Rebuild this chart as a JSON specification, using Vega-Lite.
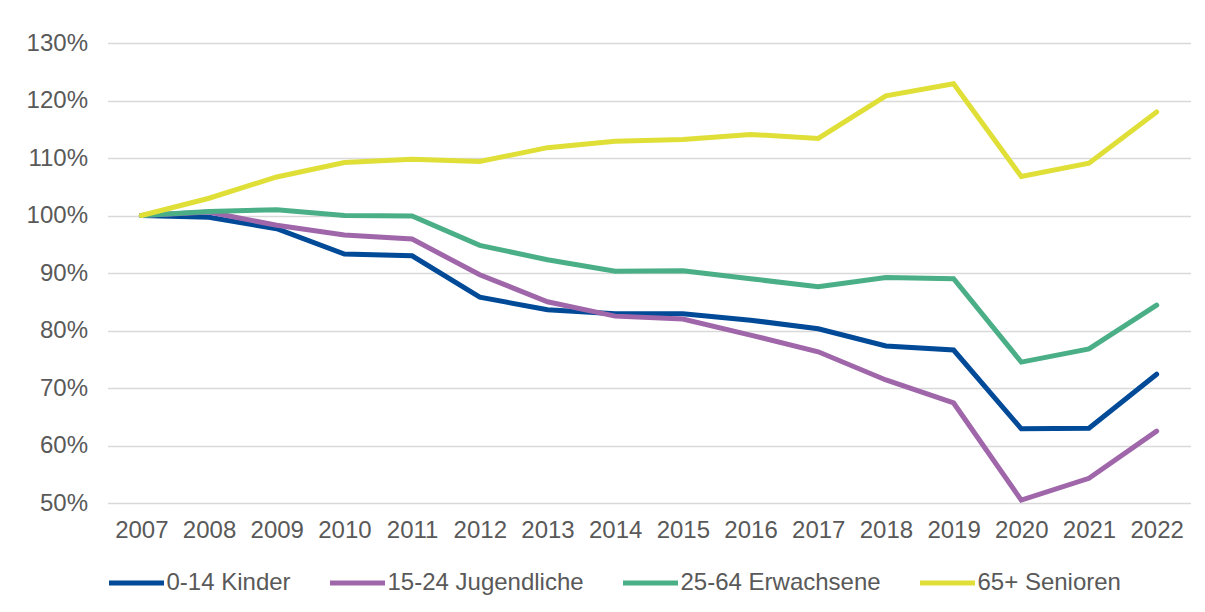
{
  "$schema": "https://vega.github.io/schema/vega-lite/v6.json",
  "width": 1083,
  "height": 460,
  "autosize": {"type": "none"},
  "padding": {"left": 107.5, "top": 43, "right": 14.5, "bottom": 109},
  "background": "white",
  "config": {
    "view": {"stroke": null},
    "font": "Liberation Sans",
    "axis": {"labelFont": "Liberation Sans", "labelColor": "#595959", "labelFontSize": 24},
    "legend": {"labelFont": "Liberation Sans", "labelColor": "#595959", "labelFontSize": 24}
  },
  "data": {
    "values": [
      {"Jahr": "2007", "Gruppe": "0-14 Kinder", "Wert": 1.000},
      {"Jahr": "2008", "Gruppe": "0-14 Kinder", "Wert": 0.997},
      {"Jahr": "2009", "Gruppe": "0-14 Kinder", "Wert": 0.977},
      {"Jahr": "2010", "Gruppe": "0-14 Kinder", "Wert": 0.933},
      {"Jahr": "2011", "Gruppe": "0-14 Kinder", "Wert": 0.930},
      {"Jahr": "2012", "Gruppe": "0-14 Kinder", "Wert": 0.858},
      {"Jahr": "2013", "Gruppe": "0-14 Kinder", "Wert": 0.836},
      {"Jahr": "2014", "Gruppe": "0-14 Kinder", "Wert": 0.829},
      {"Jahr": "2015", "Gruppe": "0-14 Kinder", "Wert": 0.829},
      {"Jahr": "2016", "Gruppe": "0-14 Kinder", "Wert": 0.818},
      {"Jahr": "2017", "Gruppe": "0-14 Kinder", "Wert": 0.803},
      {"Jahr": "2018", "Gruppe": "0-14 Kinder", "Wert": 0.773},
      {"Jahr": "2019", "Gruppe": "0-14 Kinder", "Wert": 0.766},
      {"Jahr": "2020", "Gruppe": "0-14 Kinder", "Wert": 0.629},
      {"Jahr": "2021", "Gruppe": "0-14 Kinder", "Wert": 0.630},
      {"Jahr": "2022", "Gruppe": "0-14 Kinder", "Wert": 0.724},
      {"Jahr": "2007", "Gruppe": "15-24 Jugendliche", "Wert": 1.000},
      {"Jahr": "2008", "Gruppe": "15-24 Jugendliche", "Wert": 1.006},
      {"Jahr": "2009", "Gruppe": "15-24 Jugendliche", "Wert": 0.983},
      {"Jahr": "2010", "Gruppe": "15-24 Jugendliche", "Wert": 0.966},
      {"Jahr": "2011", "Gruppe": "15-24 Jugendliche", "Wert": 0.959},
      {"Jahr": "2012", "Gruppe": "15-24 Jugendliche", "Wert": 0.897},
      {"Jahr": "2013", "Gruppe": "15-24 Jugendliche", "Wert": 0.850},
      {"Jahr": "2014", "Gruppe": "15-24 Jugendliche", "Wert": 0.825},
      {"Jahr": "2015", "Gruppe": "15-24 Jugendliche", "Wert": 0.820},
      {"Jahr": "2016", "Gruppe": "15-24 Jugendliche", "Wert": 0.792},
      {"Jahr": "2017", "Gruppe": "15-24 Jugendliche", "Wert": 0.763},
      {"Jahr": "2018", "Gruppe": "15-24 Jugendliche", "Wert": 0.714},
      {"Jahr": "2019", "Gruppe": "15-24 Jugendliche", "Wert": 0.674},
      {"Jahr": "2020", "Gruppe": "15-24 Jugendliche", "Wert": 0.505},
      {"Jahr": "2021", "Gruppe": "15-24 Jugendliche", "Wert": 0.543},
      {"Jahr": "2022", "Gruppe": "15-24 Jugendliche", "Wert": 0.625},
      {"Jahr": "2007", "Gruppe": "25-64 Erwachsene", "Wert": 1.000},
      {"Jahr": "2008", "Gruppe": "25-64 Erwachsene", "Wert": 1.007},
      {"Jahr": "2009", "Gruppe": "25-64 Erwachsene", "Wert": 1.010},
      {"Jahr": "2010", "Gruppe": "25-64 Erwachsene", "Wert": 1.000},
      {"Jahr": "2011", "Gruppe": "25-64 Erwachsene", "Wert": 0.999},
      {"Jahr": "2012", "Gruppe": "25-64 Erwachsene", "Wert": 0.948},
      {"Jahr": "2013", "Gruppe": "25-64 Erwachsene", "Wert": 0.923},
      {"Jahr": "2014", "Gruppe": "25-64 Erwachsene", "Wert": 0.903},
      {"Jahr": "2015", "Gruppe": "25-64 Erwachsene", "Wert": 0.904},
      {"Jahr": "2016", "Gruppe": "25-64 Erwachsene", "Wert": 0.890},
      {"Jahr": "2017", "Gruppe": "25-64 Erwachsene", "Wert": 0.876},
      {"Jahr": "2018", "Gruppe": "25-64 Erwachsene", "Wert": 0.892},
      {"Jahr": "2019", "Gruppe": "25-64 Erwachsene", "Wert": 0.890},
      {"Jahr": "2020", "Gruppe": "25-64 Erwachsene", "Wert": 0.745},
      {"Jahr": "2021", "Gruppe": "25-64 Erwachsene", "Wert": 0.768},
      {"Jahr": "2022", "Gruppe": "25-64 Erwachsene", "Wert": 0.844},
      {"Jahr": "2007", "Gruppe": "65+ Senioren", "Wert": 1.000},
      {"Jahr": "2008", "Gruppe": "65+ Senioren", "Wert": 1.030},
      {"Jahr": "2009", "Gruppe": "65+ Senioren", "Wert": 1.067},
      {"Jahr": "2010", "Gruppe": "65+ Senioren", "Wert": 1.092},
      {"Jahr": "2011", "Gruppe": "65+ Senioren", "Wert": 1.098},
      {"Jahr": "2012", "Gruppe": "65+ Senioren", "Wert": 1.094},
      {"Jahr": "2013", "Gruppe": "65+ Senioren", "Wert": 1.118},
      {"Jahr": "2014", "Gruppe": "65+ Senioren", "Wert": 1.129},
      {"Jahr": "2015", "Gruppe": "65+ Senioren", "Wert": 1.132},
      {"Jahr": "2016", "Gruppe": "65+ Senioren", "Wert": 1.141},
      {"Jahr": "2017", "Gruppe": "65+ Senioren", "Wert": 1.134},
      {"Jahr": "2018", "Gruppe": "65+ Senioren", "Wert": 1.208},
      {"Jahr": "2019", "Gruppe": "65+ Senioren", "Wert": 1.229},
      {"Jahr": "2020", "Gruppe": "65+ Senioren", "Wert": 1.068},
      {"Jahr": "2021", "Gruppe": "65+ Senioren", "Wert": 1.091},
      {"Jahr": "2022", "Gruppe": "65+ Senioren", "Wert": 1.180}
    ]
  },
  "mark": {"type": "line", "strokeWidth": 5, "strokeCap": "round", "strokeJoin": "miter"},
  "encoding": {
    "x": {
      "field": "Jahr",
      "type": "ordinal",
      "scale": {"type": "point", "padding": 0.5},
      "axis": {"title": null, "labelAngle": 0, "ticks": false, "domain": false, "grid": false, "labelPadding": 15}
    },
    "y": {
      "field": "Wert",
      "type": "quantitative",
      "scale": {"domain": [0.5, 1.3], "nice": false, "zero": false},
      "axis": {
        "title": null,
        "format": ".0%",
        "values": [0.5, 0.6, 0.7, 0.8, 0.9, 1.0, 1.1, 1.2, 1.3],
        "ticks": false,
        "domain": false,
        "grid": true,
        "gridColor": "#d9d9d9",
        "gridWidth": 1.5,
        "labelPadding": 20
      }
    },
    "color": {
      "field": "Gruppe",
      "type": "nominal",
      "scale": {
        "domain": ["0-14 Kinder", "15-24 Jugendliche", "25-64 Erwachsene", "65+ Senioren"],
        "range": ["#004a98", "#a066aa", "#4aaf86", "#dfdf38"]
      },
      "legend": {
        "title": null,
        "orient": "none",
        "direction": "horizontal",
        "legendX": -1,
        "legendY": 510,
        "padding": 0,
        "symbolType": "stroke",
        "symbolSize": 3025,
        "symbolStrokeWidth": 5,
        "labelOffset": 0,
        "labelLimit": 400,
        "columnPadding": 28
      }
    }
  }
}
